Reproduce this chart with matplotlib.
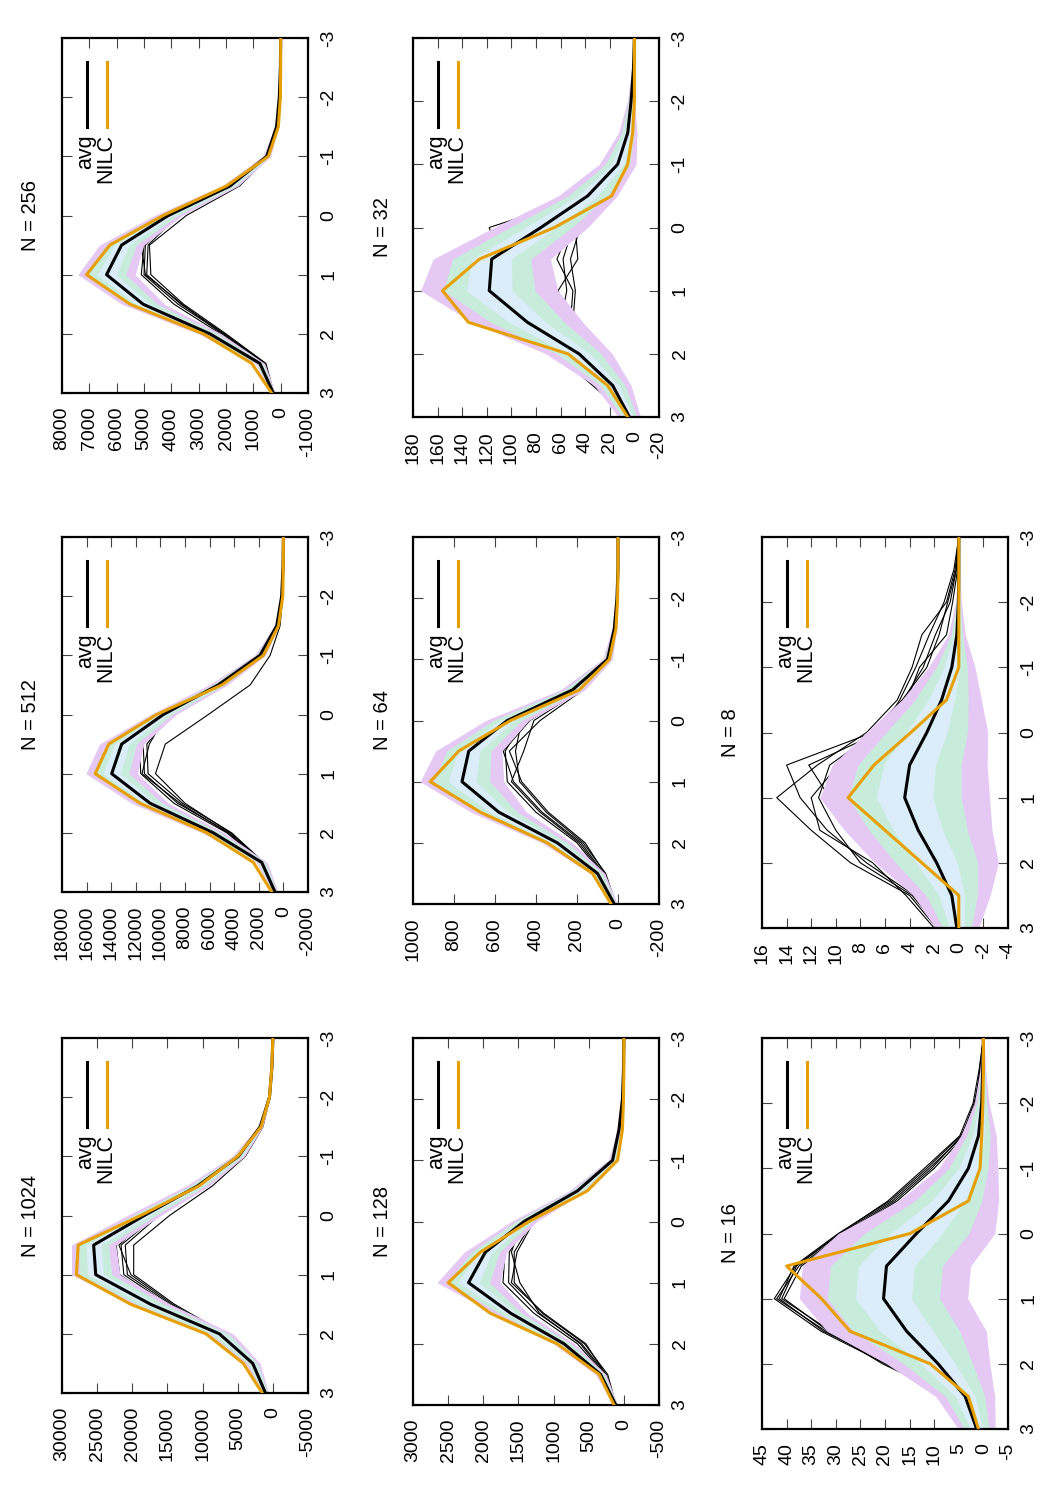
import numpy as np
import matplotlib
matplotlib.use("Agg")
import matplotlib.pyplot as plt
from matplotlib.lines import Line2D

plt.rcParams['font.family'] = ['Liberation Sans', 'DejaVu Sans']
plt.rcParams['font.size'] = 14
plt.rcParams['axes.unicode_minus'] = False

# positions along the profile (same for every panel)
pos = [3, 2.5, 2, 1.5, 1, 0.5, 0, -0.5, -1, -1.5, -2, -2.5, -3]

# ---- N = 1024
avg_1024 = [1050, 2860, 7600, 17400, 25200, 25500, 18300, 10700, 4900, 1800, 480, 140, 0]
nilc_1024 = [1520, 4190, 9520, 20240, 27950, 27700, 18800, 10500, 5000, 1670, 480, 150, 0]
sd_1024 = [150, 350, 650, 950, 1150, 1050, 800, 550, 300, 120, 40, 10, 0]
runs_1024 = [
    [1000, 2800, 7400, 15500, 21800, 22300, 17000, 10200, 4700, 1700, 450, 130, 0],
    [1100, 2900, 7200, 15000, 21200, 21600, 16500, 10000, 4600, 1700, 450, 130, 0],
    [950, 2700, 6900, 14600, 20700, 21000, 16200, 9800, 4500, 1600, 450, 130, 0],
    [1050, 2750, 7100, 14300, 20200, 21900, 17300, 10400, 4800, 1750, 450, 130, 0],
    [1000, 2600, 6700, 14000, 19800, 19800, 14700, 8600, 3900, 1400, 400, 120, 0],
]

# ---- N = 512
avg_512 = [680, 1760, 5700, 10840, 13960, 13150, 9760, 5300, 1900, 540, 140, 30, 0]
nilc_512 = [950, 2440, 6230, 11650, 15300, 14200, 10300, 5000, 1630, 400, 50, 10, 0]
sd_512 = [80, 150, 300, 500, 700, 600, 350, 250, 150, 60, 30, 10, 0]
runs_512 = [
    [700, 1700, 4600, 8900, 11600, 11700, 9700, 5100, 1900, 540, 140, 30, 0],
    [700, 1650, 4400, 8600, 11300, 11400, 9400, 5000, 1850, 530, 140, 30, 0],
    [680, 1600, 4200, 8200, 11000, 11100, 9200, 4900, 1800, 520, 140, 30, 0],
    [700, 1700, 4500, 8400, 11500, 10900, 9500, 5200, 1900, 540, 140, 30, 0],
    [680, 1600, 4300, 8000, 10400, 9600, 6100, 2700, 1080, 270, 60, 10, 0],
]

# ---- N = 256
avg_256 = [270, 760, 2590, 5030, 6370, 5820, 4110, 1850, 510, 150, 50, 10, 0]
nilc_256 = [330, 1060, 2830, 5510, 7100, 6250, 4300, 1980, 450, 85, 10, 0, 0]
sd_256 = [25, 60, 140, 260, 350, 270, 170, 100, 50, 20, 8, 3, 0]
runs_256 = [
    [270, 620, 2200, 3900, 5100, 5000, 4000, 1900, 520, 150, 50, 10, 0],
    [280, 580, 2100, 3750, 5000, 4950, 3900, 1800, 500, 140, 50, 10, 0],
    [260, 560, 2050, 3650, 4900, 4850, 3750, 1750, 480, 140, 50, 10, 0],
    [270, 600, 2150, 3600, 4950, 5100, 4100, 2000, 540, 150, 50, 10, 0],
    [250, 540, 2000, 3550, 4750, 4800, 3450, 1500, 420, 120, 40, 10, 0],
]

# ---- N = 128
avg_128 = [115, 330, 850, 1610, 2210, 1970, 1420, 660, 160, 70, 20, 5, 0]
nilc_128 = [140, 350, 950, 1900, 2500, 2040, 1350, 520, 90, 20, 5, 0, 0]
sd_128 = [10, 25, 50, 80, 150, 100, 60, 40, 20, 8, 3, 1, 0]
runs_128 = [
    [130, 280, 660, 1280, 1720, 1690, 1400, 700, 180, 60, 20, 5, 0],
    [120, 250, 600, 1220, 1640, 1630, 1350, 680, 170, 60, 20, 5, 0],
    [110, 230, 560, 1160, 1560, 1560, 1300, 650, 160, 55, 20, 5, 0],
    [120, 270, 620, 1200, 1480, 1600, 1450, 720, 190, 65, 20, 5, 0],
    [130, 260, 540, 1140, 1600, 1520, 1280, 630, 150, 50, 15, 5, 0],
]

# ---- N = 64
avg_64 = [18, 100, 296, 581, 761, 728, 540, 222, 51, 18, 5, 0, 0]
nilc_64 = [34, 124, 345, 671, 916, 777, 524, 189, 42, 10, 2, 0, 0]
sd_64 = [5, 12, 25, 45, 68, 54, 35, 20, 8, 4, 1.5, 0.5, 0]
runs_64 = [
    [15, 80, 200, 400, 540, 550, 460, 200, 50, 15, 5, 0, 0],
    [12, 70, 180, 370, 510, 560, 430, 190, 45, 15, 5, 0, 0],
    [10, 60, 170, 350, 480, 500, 470, 210, 55, 18, 5, 0, 0],
    [15, 75, 190, 380, 520, 460, 410, 180, 40, 12, 5, 0, 0],
    [12, 65, 160, 340, 470, 530, 380, 170, 45, 15, 5, 0, 0],
]

# ---- N = 32
avg_32 = [4, 17.7, 45, 87, 118, 116, 76, 38, 13.6, 5.4, 2.7, 0.8, 0]
nilc_32 = [5.4, 21.8, 54, 135, 156, 126, 65, 18.5, 5.4, 1.4, 0, 0, 0]
sd_32 = [3, 5, 9, 15, 18.6, 15.9, 12.7, 8, 5, 2.5, 1, 0.5, 0]
runs_32 = [
    [4, 30, 62, 60, 55, 58, 50, 30, 10, 4, 1.5, 0.5, 0],
    [3, 28, 58, 50, 48, 52, 44, 28, 9, 3, 1.5, 0.5, 0],
    [5, 34, 64, 55, 62, 46, 48, 26, 10, 4, 1.5, 0.5, 0],
    [4, 25, 55, 52, 50, 63, 52, 32, 11, 4, 1.5, 0.5, 0],
    [3, 20, 50, 80, 100, 110, 118, 40, 12, 4, 1.5, 0.5, 0],
]

# ---- N = 16
avg_16 = [1.36, 3.7, 9.2, 15.6, 20.3, 19.7, 13.6, 7.1, 3.05, 1.0, 0.34, 0.14, 0]
nilc_16 = [1.0, 3.05, 10.8, 27.1, 32.9, 40.0, 14.9, 3.05, 0.68, 0.34, 0.1, 0, 0]
sd_16 = [1.25, 2.0, 3.5, 5.4, 5.7, 5.7, 5.3, 3.4, 2.0, 1.2, 0.5, 0.2, 0.05]
runs_16 = [
    [2.5, 6.5, 19.5, 31, 41, 38, 29, 18.5, 11, 4.0, 1.6, 0.8, 0],
    [2.8, 7.0, 20, 32, 42, 37.5, 28.5, 18, 10.5, 4.4, 1.9, 0.5, 0],
    [2.6, 6.8, 19, 32.5, 41.5, 38.5, 29.5, 19, 11.5, 4.6, 1.3, 0.7, 0],
    [2.7, 6.6, 20.5, 31.5, 40.5, 37, 28, 17.5, 10, 3.8, 1.6, 0.4, 0],
    [2.4, 7.2, 19.8, 33, 42.5, 38.2, 29.2, 19.4, 12.0, 4.8, 2.1, 0.9, 0],
]

# ---- N = 8
avg_8 = [0.16, 0.57, 1.8, 3.3, 4.4, 4.0, 2.6, 1.4, 0.57, 0.16, 0.03, 0, 0]
nilc_8 = [0, 0, 3.0, 6.0, 9.0, 6.9, 3.9, 1.0, 0, 0, 0, 0, 0]
sd_8 = [0.59, 1.04, 1.67, 2.0, 2.3, 2.1, 1.65, 1.08, 0.63, 0.23, 0.08, 0.02, 0]
runs_8 = [
    [1.8, 4.0, 8.8, 12.0, 14.8, 11.5, 7.5, 5.0, 3.8, 3.0, 1.0, 0.3, 0],
    [1.5, 3.6, 7.5, 10.7, 12.9, 14.0, 7.0, 4.5, 2.9, 1.9, 0.7, 0.2, 0],
    [1.6, 3.8, 8.0, 10.0, 11.4, 10.5, 6.8, 4.2, 3.2, 1.0, 0.5, 0.1, 0],
    [1.2, 3.0, 6.5, 9.0, 10.5, 12.2, 6.5, 4.8, 3.5, 2.4, 1.2, 0.4, 0],
    [2.0, 4.3, 7.0, 11.3, 12.0, 9.8, 7.2, 4.6, 2.6, 1.6, 0.9, 0.2, 0],
]

# (label, avg, nilc, sd, runs, vmax, vmin, step, column, row)
panels = [
    ("N = 1024", avg_1024, nilc_1024, sd_1024, runs_1024, 30000, -5000, 5000, 0, 2),
    ("N = 512", avg_512, nilc_512, sd_512, runs_512, 18000, -2000, 2000, 0, 1),
    ("N = 256", avg_256, nilc_256, sd_256, runs_256, 8000, -1000, 1000, 0, 0),
    ("N = 128", avg_128, nilc_128, sd_128, runs_128, 3000, -500, 500, 1, 2),
    ("N = 64", avg_64, nilc_64, sd_64, runs_64, 1000, -200, 200, 1, 1),
    ("N = 32", avg_32, nilc_32, sd_32, runs_32, 180, -20, 20, 1, 0),
    ("N = 16", avg_16, nilc_16, sd_16, runs_16, 45, -5, 5, 2, 2),
    ("N = 8", avg_8, nilc_8, sd_8, runs_8, 16, -4, 2, 2, 1),
]

W, H = 1050, 1500
col_left = [62, 413, 762]
row_top = [38, 537, 1038]
pw = 246

c_violet = "#e5c8f3"
c_green = "#c8ecdc"
c_blue = "#daedf8"
c_orange = "#e69f00"

fig = plt.figure(figsize=(W / 100, H / 100), dpi=100)

for label, avg, nilc, sd, runs, vmax, vmin, step, col, row in panels:
    avg = np.array(avg, float)
    sd = np.array(sd, float)
    nch = max(len(str(vmax)), len(str(vmin)))
    ph = 355 + 12 * (5 - nch)
    left = col_left[col]
    top = row_top[row]
    ax = fig.add_axes([left / W, 1 - (top + ph) / H, pw / W, ph / H])

    # single realisations sit under the spread bands
    for r in runs:
        ax.plot(r, pos, color="black", lw=0.8, zorder=1)
    ax.fill_betweenx(pos, avg - 3 * sd, avg + 3 * sd, color=c_violet, lw=0, zorder=2)
    ax.fill_betweenx(pos, avg - 2 * sd, avg + 2 * sd, color=c_green, lw=0, zorder=2)
    ax.fill_betweenx(pos, avg - sd, avg + sd, color=c_blue, lw=0, zorder=2)
    ax.plot(avg, pos, color="black", lw=2.2, zorder=4)
    ax.plot(nilc, pos, color=c_orange, lw=2.2, zorder=5)

    ax.set_xlim(vmax, vmin)
    ax.set_ylim(3, -3)
    xt = np.arange(vmin, vmax + step, step)
    ax.set_xticks(xt)
    ax.set_xticklabels([str(int(v)) for v in xt])
    ax.set_yticks([3, 2, 1, 0, -1, -2, -3])
    ax.set_yticklabels(["3", "2", "1", "0", "-1", "-2", "-3"])
    ax.tick_params(axis="both", direction="in", length=7, width=0.8, color="#444444",
                   top=True, bottom=True, left=True, right=True)
    ax.tick_params(axis="x", labelrotation=90, pad=10)
    ax.tick_params(axis="y", labelleft=False, labelright=True, labelrotation=90, pad=9)
    for t in ax.yaxis.get_majorticklabels():
        t.set_va("center")
    for s in ax.spines.values():
        s.set_linewidth(1.6)

    fig.text((left - 31) / W, 1 - (top + ph / 2) / H, label, rotation=90,
             ha="center", va="center", fontsize=14.5)

    # legend (text then sample line)
    for k, (name, colr) in enumerate([("avg", "black"), ("NILC", c_orange)]):
        lx = left + 25 + 20 * k
        fig.text((lx + 4) / W, 1 - (top + 96) / H, name, rotation=90,
                 rotation_mode="anchor", ha="right", va="baseline", fontsize=15.5)
        fig.add_artist(Line2D([lx / W, lx / W], [1 - (top + 24) / H, 1 - (top + 89) / H],
                              transform=fig.transFigure, color=colr, lw=2.2))

fig.savefig("out.png", dpi=100)
